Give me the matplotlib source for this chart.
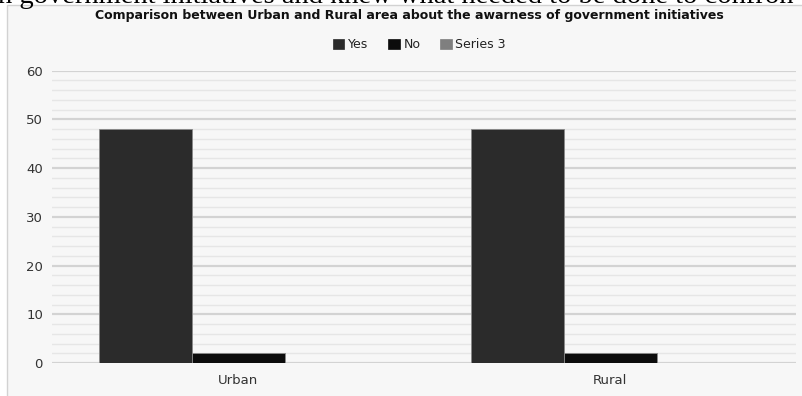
import matplotlib
matplotlib.use("Agg")
import matplotlib.pyplot as plt
from matplotlib.patches import Rectangle
from matplotlib.ticker import MultipleLocator
import numpy as np

# Data
categories = ["Urban", "Rural"]
series_names = ["Yes", "No", "Series 3"]
yes_values = [48, 48]
no_values = [2, 2]
series3_values = [0, 0]
series_colors = ["#2b2b2b", "#0c0c0c", "#7f7f7f"]

title = "Comparison between Urban and Rural area about the awarness of government initiatives"
page_text = "n government initiatives and knew what needed to be done to confron"

W, H = 802, 396
fig = plt.figure(figsize=(W / 100, H / 100), dpi=100)
fig.patch.set_facecolor("white")

# Chart panel
panel = Rectangle((7 / W, -0.01), 1.0, (H - 5) / H + 0.01, transform=fig.transFigure,
                  facecolor="#f7f7f7", edgecolor="#d2d2d2", linewidth=1.0, zorder=0)
fig.add_artist(panel)

# Running page text cut at the top edge
fig.text(-0.002, 1 - 3 / H, page_text, family="Liberation Serif", fontsize=20.5,
         color="black", ha="left", va="baseline", zorder=5)

ax_left, ax_right = 52 / W, 796 / W
ax_bottom, ax_top = (H - 363) / H, (H - 70.7) / H
ax = fig.add_axes([ax_left, ax_bottom, ax_right - ax_left, ax_top - ax_bottom])
ax.set_facecolor("none")

x = np.arange(len(categories))
width = 0.25
all_values = [yes_values, no_values, series3_values]
for i, (name, vals, col) in enumerate(zip(series_names, all_values, series_colors)):
    ax.bar(x + (i - 1) * width, vals, width, color=col, label=name,
           edgecolor="#8a8a8a" if i < 2 else col, linewidth=0.6 if i < 2 else 0, zorder=3)

ax.set_xlim(-0.5, len(categories) - 0.5)
ax.set_ylim(0, 60)
ax.yaxis.set_major_locator(MultipleLocator(10))
ax.yaxis.set_minor_locator(MultipleLocator(2))
ax.grid(axis="y", which="major", color="#d3d3d3", linewidth=1.6, zorder=1)
ax.grid(axis="y", which="minor", color="#e6e6e6", linewidth=1.0, zorder=1)
ax.set_axisbelow(True)
for s in ax.spines.values():
    s.set_visible(False)

ax.set_xticks(x)
ax.set_xticklabels(categories)
ax.tick_params(axis="both", which="both", length=0)
ax.tick_params(axis="y", pad=6.5, labelsize=9.5, labelcolor="#333333")
ax.tick_params(axis="x", pad=8, labelsize=9.5, labelcolor="#333333")

fig.text(0.511, 1 - 16 / H, title, family="DejaVu Sans", fontweight="bold",
         fontsize=9, color="#111111", ha="center", va="center")

handles, labels = ax.get_legend_handles_labels()
leg = fig.legend(handles, labels, loc="center", bbox_to_anchor=(0.523, 1 - 45 / H), ncol=3,
                 frameon=False, fontsize=9, handlelength=0.9, handleheight=0.9,
                 handletextpad=0.3, columnspacing=1.6, labelcolor="#222222")
for h, c in zip(leg.legend_handles, series_colors):
    h.set_facecolor(c)
    h.set_edgecolor(c)
    h.set_linewidth(0.5)

fig.savefig("out.png", dpi=100, facecolor=fig.get_facecolor())
